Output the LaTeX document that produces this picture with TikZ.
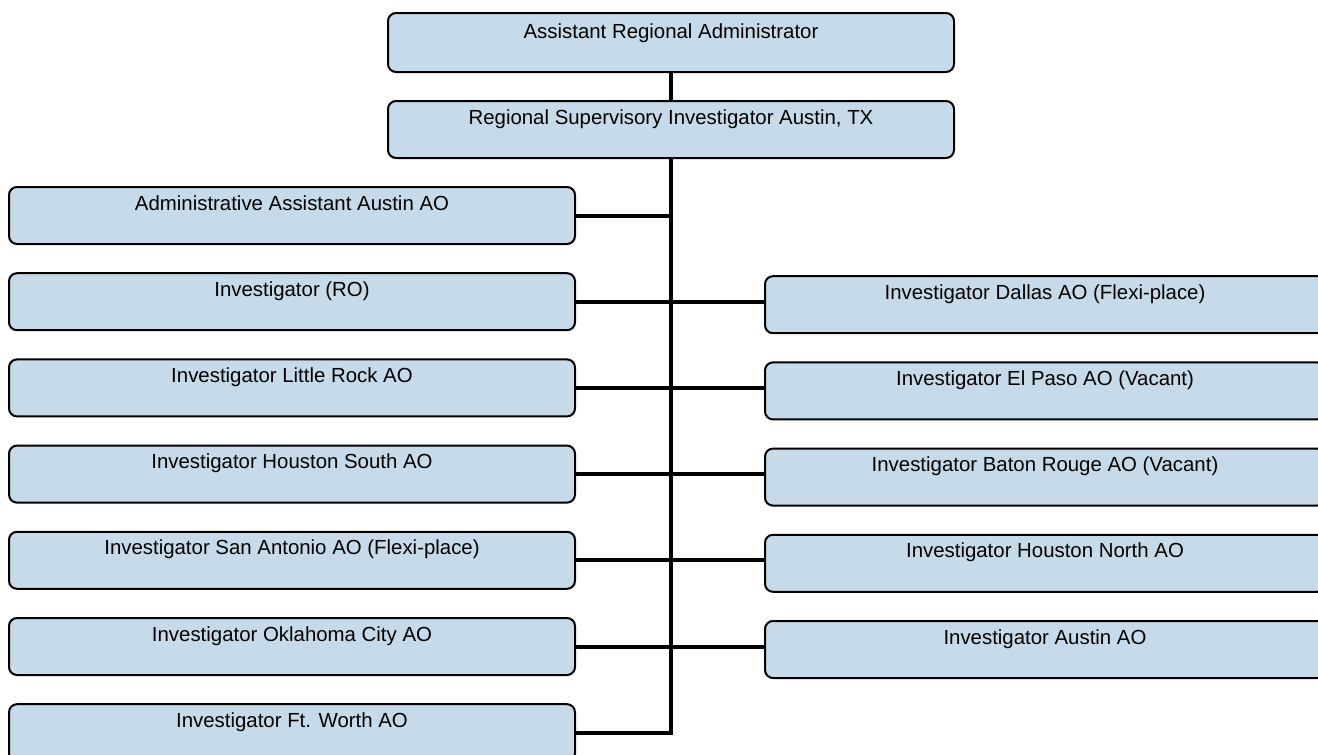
\documentclass[tikz,border=0pt]{standalone}
\usepackage{fontspec}
\setmainfont{Liberation Sans}
\usetikzlibrary{positioning}
\definecolor{postblue}{RGB}{198,218,233}
\tikzstyle{post} = [draw,rectangle,rounded corners=4pt,fill=postblue,line width=1pt,
                    minimum width=283pt,inner ysep=0pt,text height=11.5pt,text depth=17pt,
                    font=\fontsize{10.2}{12}\selectfont]
\tikzstyle{rpost} = [post,minimum width=280pt]
\tikzstyle{link} = [line width=2pt]

\begin{document}
\begin{tikzpicture}[x=0.5pt,y=-0.5pt,node distance=13.6pt]
    % page frame, boxes at the edges are cut off
    \clip (0,0) rectangle (1318,755);

    % head of the region
    \node[post,anchor=north west,text height=13pt,text depth=16.5pt] (ara) at (387,12)
      {Assistant Regional Administrator};
    \node[post,anchor=north west] (rsi) at (387,100)
      {Regional Supervisory Investigator Austin, TX};

    % left column
    \node[post,anchor=north west] (admin) at (8,186) {Administrative Assistant Austin AO};
    \node[post,below=of admin] (ro) {Investigator (RO)};
    \node[post,below=of ro] (lrock) {Investigator Little Rock AO};
    \node[post,below=of lrock] (hsouth) {Investigator Houston South AO};
    \node[post,below=of hsouth] (santonio) {Investigator San Antonio AO (Flexi-place)};
    \node[post,below=of santonio] (okc) {Investigator Oklahoma City AO};
    \node[post,below=of okc] (fworth) {Investigator Ft. Worth AO};

    % right column
    \node[rpost,right=94pt of ro,yshift=-1.5pt] (dallas) {Investigator Dallas AO (Flexi-place)};
    \node[rpost,below=of dallas] (elpaso) {Investigator El Paso AO (Vacant)};
    \node[rpost,below=of elpaso] (brouge) {Investigator Baton Rouge AO (Vacant)};
    \node[rpost,below=of brouge] (hnorth) {Investigator Houston North AO};
    \node[rpost,below=of hnorth] (austin) {Investigator Austin AO};

    % now link the nodes
    \draw [link] (ara) -- (rsi);
    \draw [link] (rsi.south) |- (fworth.east);
    \draw [link] (admin.east) -- (admin.east -| rsi.south);
    \draw [link] (ro.east) -- (ro.east -| dallas.west);
    \draw [link] (lrock.east) -- (lrock.east -| elpaso.west);
    \draw [link] (hsouth.east) -- (hsouth.east -| brouge.west);
    \draw [link] (santonio.east) -- (santonio.east -| hnorth.west);
    \draw [link] (okc.east) -- (okc.east -| austin.west);
\end{tikzpicture}
\end{document}
